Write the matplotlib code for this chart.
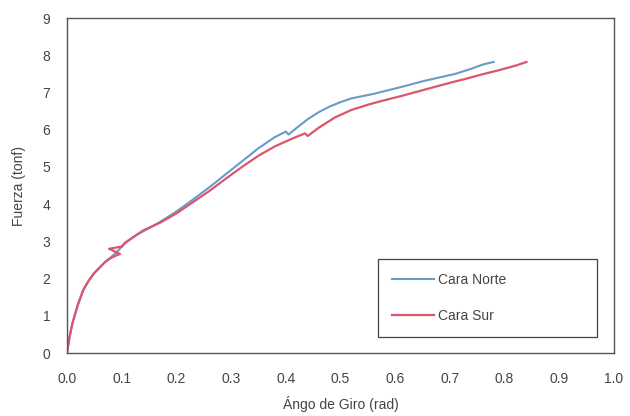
import numpy as np
import matplotlib
matplotlib.use('Agg')
import matplotlib.pyplot as plt

plt.rcParams['font.family'] = ['Liberation Sans', 'DejaVu Sans']

# Data
norte_x = [0.0, 0.005, 0.01, 0.02, 0.03, 0.04, 0.05, 0.06, 0.07, 0.08, 0.09,
           0.10, 0.11, 0.13, 0.15, 0.17, 0.20, 0.23, 0.26, 0.29, 0.32, 0.35,
           0.38, 0.40, 0.405, 0.42, 0.44, 0.46, 0.48, 0.50, 0.52, 0.54, 0.56,
           0.59, 0.62, 0.65, 0.68, 0.71, 0.74, 0.76, 0.78]
norte_y = [0.0, 0.45, 0.8, 1.3, 1.7, 1.95, 2.15, 2.3, 2.45, 2.57, 2.7,
           2.85, 3.0, 3.2, 3.35, 3.52, 3.8, 4.12, 4.45, 4.8, 5.15, 5.5,
           5.8, 5.95, 5.87, 6.05, 6.28, 6.47, 6.62, 6.74, 6.84, 6.9, 6.96,
           7.07, 7.18, 7.3, 7.4, 7.5, 7.64, 7.75, 7.82]
sur_x = [0.0, 0.005, 0.01, 0.02, 0.03, 0.04, 0.05, 0.06, 0.07, 0.08, 0.09,
         0.097, 0.077, 0.10, 0.105, 0.12, 0.14, 0.17, 0.20, 0.23, 0.26, 0.29,
         0.32, 0.35, 0.38, 0.41, 0.435, 0.44, 0.46, 0.49, 0.52, 0.55, 0.58,
         0.61, 0.64, 0.67, 0.70, 0.73, 0.76, 0.79, 0.82, 0.84]
sur_y = [0.0, 0.45, 0.8, 1.3, 1.7, 1.95, 2.15, 2.3, 2.45, 2.55, 2.62,
         2.66, 2.8, 2.86, 2.95, 3.1, 3.3, 3.5, 3.75, 4.05, 4.35, 4.68,
         5.0, 5.3, 5.55, 5.75, 5.9, 5.83, 6.05, 6.33, 6.53, 6.67, 6.79,
         6.9, 7.02, 7.14, 7.26, 7.37, 7.49, 7.6, 7.72, 7.82]

x_ticks = np.round(np.arange(0, 1.01, 0.1), 1)
y_ticks = np.arange(0, 10, 1)

fig = plt.figure(figsize=(6.3, 4.16), dpi=100)
ax = fig.add_axes([0.1063, 0.1514, 0.8683, 0.8053])

ax.plot(norte_x, norte_y, color='#6b9ac6', lw=1.5, label='Cara Norte')
ax.plot(sur_x, sur_y, color='#d9566e', lw=1.6, label='Cara Sur')

ax.set_xlim(0, 1.0)
ax.set_ylim(0, 9)
ax.set_xticks(x_ticks)
ax.set_xticklabels([f'{t:.1f}' for t in x_ticks])
ax.set_yticks(y_ticks)
ax.tick_params(axis='x', length=0, pad=14, labelsize=10, colors='#444444')
ax.tick_params(axis='y', length=0, pad=12, labelsize=10, colors='#444444')
for s in ax.spines.values():
    s.set_color('#555555')
    s.set_linewidth(1.0)

ax.set_xlabel('Ángo de Giro (rad)', fontsize=10, color='#444444', labelpad=7)
ax.set_ylabel('Fuerza (tonf)', fontsize=10, color='#444444', labelpad=12)

leg = ax.legend(loc='lower left', bbox_to_anchor=(0.569, 0.048, 0.4, 0.239),
                mode='expand', fontsize=10, handlelength=3.0, handletextpad=0.3,
                labelspacing=1.6, borderpad=1.0, fancybox=False, framealpha=1,
                borderaxespad=0)
leg.get_frame().set_edgecolor('#444444')
leg.get_frame().set_linewidth(0.9)
for t in leg.get_texts():
    t.set_color('#444444')

fig.savefig('out.png', dpi=100)
